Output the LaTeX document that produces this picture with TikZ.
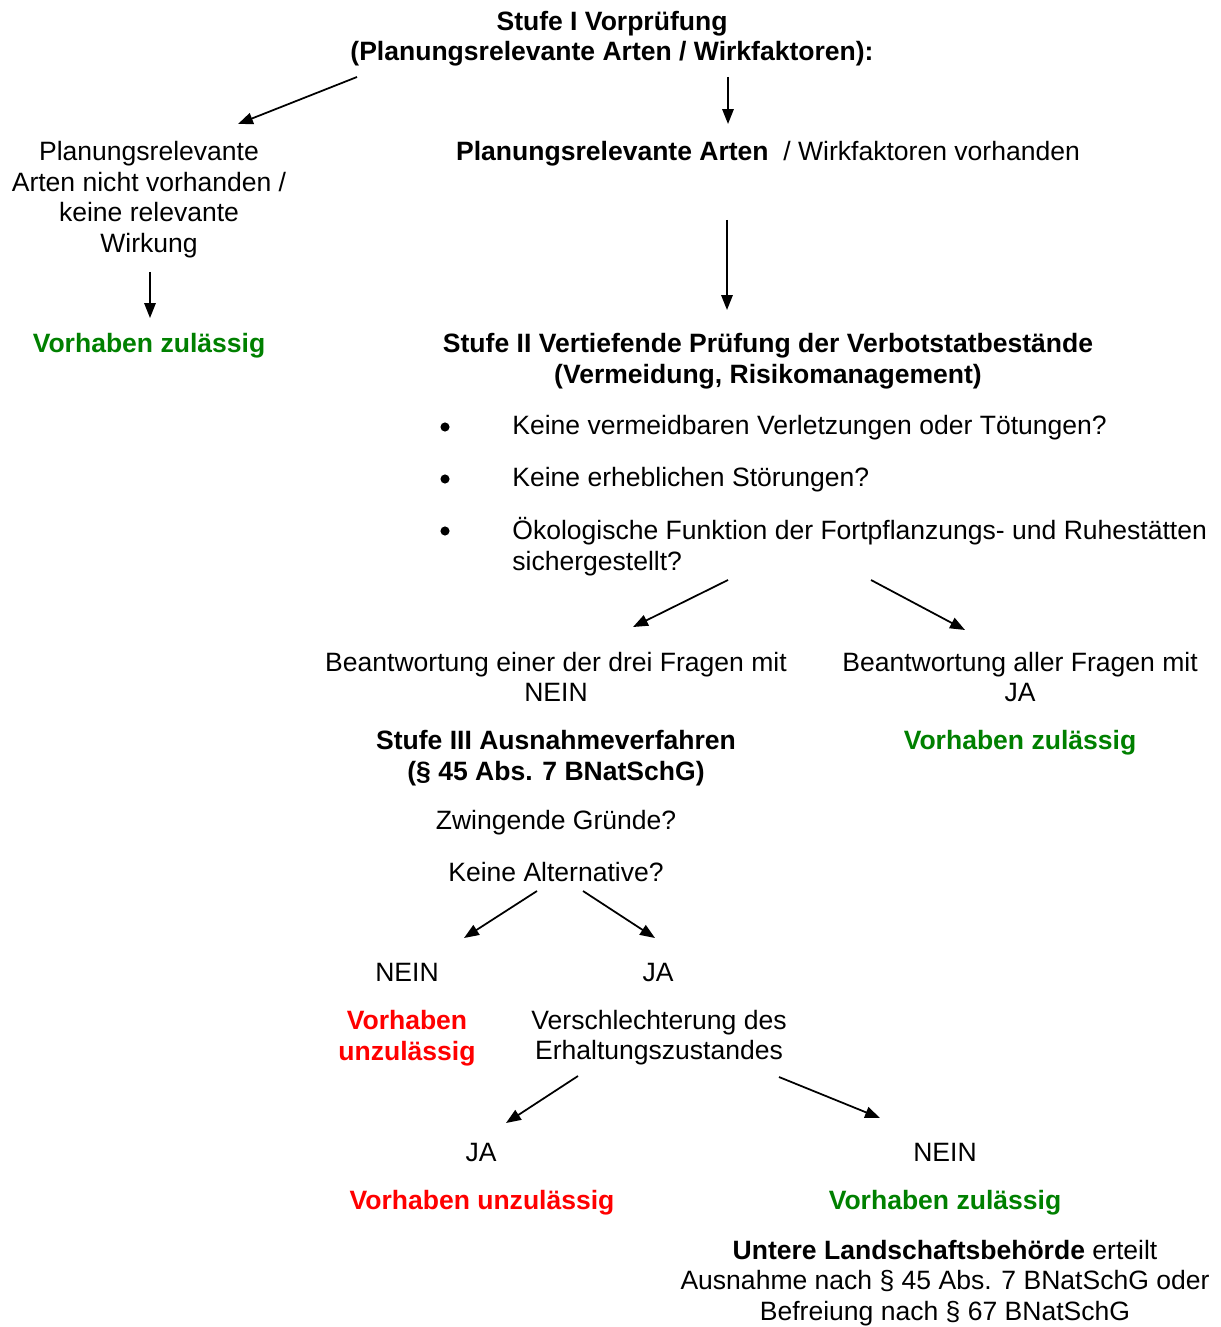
\documentclass[tikz,border=0pt]{standalone}
\usepackage{fontspec}
\setmainfont{Liberation Sans}
\usetikzlibrary{arrows.meta}
\definecolor{okgreen}{RGB}{0,128,0}
\definecolor{badred}{RGB}{255,0,0}

\begin{document}
\begin{tikzpicture}[x=0.02cm,y=0.02cm,
        txt/.style={inner sep=0pt, align=center, font=\fontsize{15.1pt}{17.4pt}\selectfont},
        hd/.style={txt, font=\fontsize{15.1pt}{17.4pt}\selectfont\bfseries},
        ok/.style={hd, text=okgreen},
        bad/.style={hd, text=badred},
        dot/.style={circle, fill, inner sep=0pt, minimum size=5.2pt},
        arr/.style={line width=1pt, -{Triangle[length=8.5pt,width=6.5pt]}}]

        \useasboundingbox (0,0) rectangle (1220,-1327);

        \node[hd] (s1) at (612,-38.5) {Stufe I Vorprüfung\\(Planungsrelevante Arten / Wirkfaktoren):};
        \node[txt] (nv) at (149,-199.5) {Planungsrelevante\\Arten nicht vorhanden /\\keine relevante\\Wirkung};
        \node[ok] (ok1) at (149,-345.5) {Vorhaben zulässig};
        \node[txt] (pv) at (768,-153.5) {\textbf{Planungsrelevante Arten}\ \ / Wirkfaktoren vorhanden};

        \node[hd] (s2) at (768,-361) {Stufe II Vertiefende Prüfung der Verbotstatbestände\\(Vermeidung, Risikomanagement)};
        \node[txt, anchor=west] (q1) at (512,-427.5) {Keine vermeidbaren Verletzungen oder Tötungen?};
        \node[txt, anchor=west] (q2) at (512,-479.5) {Keine erheblichen Störungen?};
        \node[txt, anchor=west, align=left] (q3) at (512,-546.5) {Ökologische Funktion der Fortpflanzungs- und Ruhestätten\\sichergestellt?};
        \node[dot] (d1) at (445,-427) {};
        \node[dot] (d2) at (445,-479) {};
        \node[dot] (d3) at (445,-531) {};

        \node[txt] (nein1) at (556,-677) {Beantwortung einer der drei Fragen mit\\NEIN};
        \node[txt] (ja1) at (1020,-677) {Beantwortung aller Fragen mit\\JA};
        \node[hd] (s3) at (556,-758) {Stufe III Ausnahmeverfahren\\(§ 45 Abs. 7 BNatSchG)};
        \node[ok] (ok2) at (1020,-742.5) {Vorhaben zulässig};
        \node[txt] (zg) at (556,-822.5) {Zwingende Gründe?};
        \node[txt] (ka) at (556,-872.5) {Keine Alternative?};

        \node[txt] (nein2) at (407,-972.5) {NEIN};
        \node[txt] (ja2) at (658,-972.5) {JA};
        \node[bad] (unz1) at (407,-1038) {Vorhaben\\unzulässig};
        \node[txt] (ver) at (659,-1037.5) {Verschlechterung des\\Erhaltungszustandes};

        \node[txt] (ja3) at (481,-1152.5) {JA};
        \node[txt] (nein3) at (945,-1152.5) {NEIN};
        \node[bad] (unz2) at (482,-1202.5) {Vorhaben unzulässig};
        \node[ok] (ok3) at (945,-1202.5) {Vorhaben zulässig};
        \node[txt] (ulb) at (945,-1283) {\textbf{Untere Landschaftsbehörde} erteilt\\Ausnahme nach § 45 Abs. 7 BNatSchG oder\\Befreiung nach § 67 BNatSchG};

        \draw[arr] ([shift={(-255,-38.5)}]s1.center) -- ([shift={(89,75.5)}]nv.center);
        \draw[arr] ([shift={(116,-38.5)}]s1.center) -- ([shift={(-40,29.5)}]pv.center);
        \draw[arr] ([shift={(1,-72.5)}]nv.center) -- ([shift={(1,27.5)}]ok1.center);
        \draw[arr] ([shift={(-41,-66.5)}]pv.center) -- ([shift={(-41,51)}]s2.center);
        \draw[arr] ([shift={(216,-33.5)}]q3.west) -- ([shift={(77,50)}]nein1.center);
        \draw[arr] ([shift={(359,-33.5)}]q3.west) -- ([shift={(-55,47)}]ja1.center);
        \draw[arr] ([shift={(-19,-18.5)}]ka.center) -- ([shift={(57,34.5)}]nein2.center);
        \draw[arr] ([shift={(27,-18.5)}]ka.center) -- ([shift={(-3,34.5)}]ja2.center);
        \draw[arr] ([shift={(-81,-38.5)}]ver.center) -- ([shift={(25,29.5)}]ja3.center);
        \draw[arr] ([shift={(120,-39.5)}]ver.center) -- ([shift={(-65,34.5)}]nein3.center);

    \end{tikzpicture}
\end{document}
